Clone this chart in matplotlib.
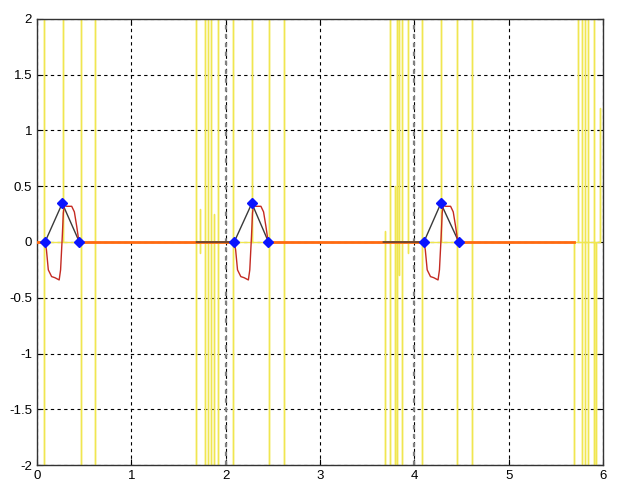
import numpy as np
import matplotlib
matplotlib.use("Agg")
import matplotlib.pyplot as plt

# pulse positions (left zero, peak, right zero) for the three pulses
pulse_left = [0.085, 2.09, 4.10]
pulse_peak = [0.268, 2.277, 4.28]
pulse_right = [0.449, 2.453, 4.47]
peak_height = 0.347
# start of the black zero segment before each pulse
black_start = [0.085, 1.69, 3.67]

# red response, offsets from pulse start
red_dx = [0, 0.015, 0.035, 0.07, 0.105, 0.15, 0.165, 0.183, 0.194,
          0.205, 0.23, 0.283, 0.311, 0.336, 0.36]
red_y = [0, -0.07, -0.25, -0.31, -0.32, -0.34, -0.25, 0.05, 0.26,
         0.33, 0.32, 0.32, 0.27, 0.14, 0.0]

# orange baseline pieces
orange_start = [0.0, 0.449, 2.453, 4.47]
orange_end = [0.085, 2.09, 4.10, 5.69]

# yellow spikes: (x, top, bottom), grouped
yellow_groups = [
    [(0.07, 2.5, -2.5), (0.275, 2.5, 0.0), (0.465, 2.5, -2.5), (0.62, 2.5, -2.5)],
    [(1.69, 2.5, -2.5), (1.73, 0.3, -0.1), (1.78, 2.5, -2.5), (1.807, 2.5, -2.5),
     (1.84, 2.5, -2.5), (1.872, 0.25, -2.5), (1.92, 2.5, -2.5), (2.075, 2.5, -2.5),
     (2.275, 2.5, 0.0), (2.46, 2.5, -2.5), (2.62, 2.5, -2.5)],
    [(3.685, 0.1, -2.5), (3.74, 2.5, -2.5), (3.79, 0.5, -2.5), (3.815, 2.5, -2.5),
     (3.835, 2.5, -0.3), (3.87, 2.5, -2.5), (3.93, 2.5, -0.1), (4.08, 2.5, -2.5),
     (4.28, 2.5, 0.0), (4.455, 2.5, -2.5), (4.61, 2.5, -2.5)],
    [(5.69, 0.0, -2.5), (5.737, 2.5, 0.0), (5.775, 2.5, -2.5), (5.808, 2.5, -2.5),
     (5.84, 2.5, -2.5), (5.90, 2.5, -2.5), (5.925, 0.0, -2.5), (5.97, 1.2, 0.0)],
]

ref_lines = [2, 4]

plt.rcParams["font.family"] = ["Liberation Sans", "DejaVu Sans"]

fig = plt.figure(figsize=(6.27, 4.84), dpi=100)
ax = fig.add_axes([0.059, 0.039, 0.903, 0.922])
ax.set_axisbelow(True)

# yellow signal
for group in yellow_groups:
    xs, ys = [], []
    for x, hi, lo in group:
        xs += [x, x, x, x]
        ys += [0, hi, lo, 0]
    ax.plot(xs, ys, color="#f0e650", lw=1, zorder=2)

# orange baseline
for a, b in zip(orange_start, orange_end):
    ax.plot([a, b], [0, 0], color="#ff6a10", lw=2, zorder=3)

# black triangle lines
for s, l, p, r in zip(black_start, pulse_left, pulse_peak, pulse_right):
    ax.plot([s, l, p, r], [0, 0, peak_height, 0], color="#3a3a3a", lw=1, zorder=4)

# red response
for l in pulse_left:
    ax.plot(np.array(red_dx) + l, red_y, color="#c42a22", lw=1, zorder=5)

# diamonds
for l, p, r in zip(pulse_left, pulse_peak, pulse_right):
    ax.plot([l, p, r], [0, peak_height, 0], ls="none", marker="D", ms=5,
            color="#0a14ff", zorder=6)

for x in ref_lines:
    ax.axvline(x, color="#808080", lw=1.6, ls=(0, (2, 2)), zorder=1)

ax.set_xlim(0, 6)
ax.set_ylim(-2, 2)
ax.set_xticks(range(0, 7))
ax.set_yticks(np.arange(-2, 2.01, 0.5))
ax.set_yticklabels(["-2", "-1.5", "-1", "-0.5", "0", "0.5", "1", "1.5", "2"])
ax.grid(True, color="black", ls=(0, (3, 3)), lw=0.8)
ax.tick_params(direction="in", labelsize=9.5, length=4, top=True, right=True)
for s in ax.spines.values():
    s.set_color("#333333")
    s.set_linewidth(1)

plt.savefig("out.png", dpi=100)
